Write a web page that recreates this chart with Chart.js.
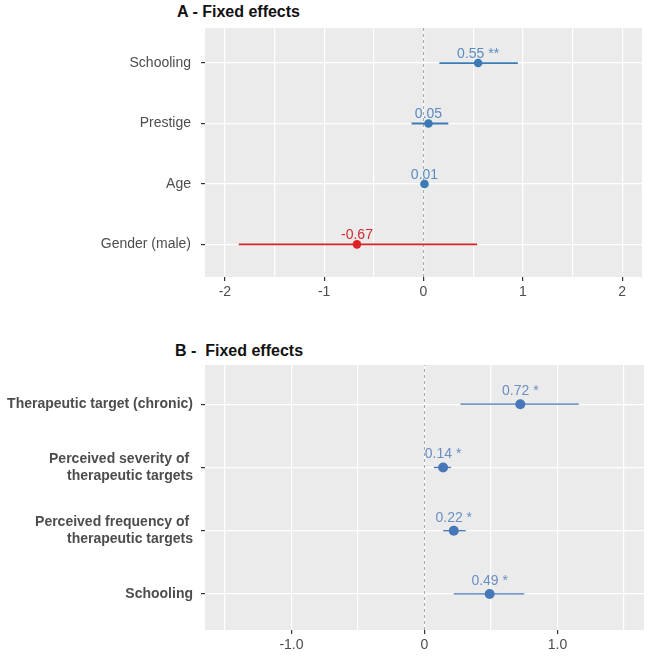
<!DOCTYPE html>
<html>
<head>
<meta charset="utf-8">
<title>Fixed effects</title>
<script src="https://cdn.jsdelivr.net/npm/chart.js@4.4.0/dist/chart.umd.min.js"></script>
<style>
  html, body { margin: 0; padding: 0; background: #ffffff; }
  #page { position: relative; width: 650px; height: 658px; overflow: hidden; font-family: "Liberation Sans", Arial, sans-serif; }
  .panel-title { position: absolute; font-weight: bold; font-size: 16px; line-height: 16px; color: #111111; white-space: pre; }
  .chart-box { position: absolute; left: 0; width: 650px; }
  canvas { display: block; }
</style>
</head>
<body>
<div id="page">
  <div class="panel-title" style="left:177px; top:4px;">A - Fixed effects</div>
  <div class="chart-box" style="top:0; height:307px;"><canvas id="chartA" width="650" height="307"></canvas></div>
  <div class="panel-title" style="left:175px; top:343px;">B -  Fixed effects</div>
  <div class="chart-box" style="top:330px; height:328px;"><canvas id="chartB" width="650" height="328"></canvas></div>
</div>
<script>
// Panel A - fixed effects (top to bottom)
const termsA = ['Schooling', 'Prestige', 'Age', 'Gender (male)'];
const estimatesA = [0.55, 0.05, 0.01, -0.67];
const lowerA = [0.16, -0.12, -0.02, -1.86];
const upperA = [0.95, 0.25, 0.04, 0.54];
const starsA = ['**', '', '', ''];
const xLimitsA = [-2.2, 2.2];
const yLimitsA = [-0.54, 3.58];
const xTicksA = [-2, -1.5, -1, -0.5, 0, 0.5, 1, 1.5, 2];
const xTickLabelsA = ['-2', '', '-1', '', '0', '', '1', '', '2'];

// Panel B - fixed effects (top to bottom)
const termsB = [
    ['Therapeutic target (chronic)'],
    ['Perceived severity of ', 'therapeutic targets'],
    ['Perceived frequency of ', 'therapeutic targets'],
    ['Schooling']
];
const estimatesB = [0.72, 0.14, 0.22, 0.49];
const lowerB = [0.27, 0.07, 0.14, 0.22];
const upperB = [1.16, 0.20, 0.31, 0.75];
const starsB = ['*', '*', '*', '*'];
const xLimitsB = [-1.65, 1.65];
const yLimitsB = [-0.57, 3.62];
const xTicksB = [-1.5, -1, -0.5, 0, 0.5, 1, 1.5];
const xTickLabelsB = ['', '-1.0', '', '0', '', '1.0', ''];

const FONT = '"Liberation Sans", Arial, sans-serif';

// grey ggplot-style panel behind the grid
const panelBackground = {
    id: 'panelBackground',
    beforeDraw(chart) {
        const { ctx, chartArea: a } = chart;
        ctx.save();
        ctx.fillStyle = '#ebebeb';
        ctx.fillRect(a.left, a.top, a.right - a.left, a.bottom - a.top);
        ctx.restore();
    }
};

// estimate text above each point
const makeValueLabels = (estimates, stars, rows, colors, lift) => ({
    id: 'valueLabels',
    afterDatasetsDraw(chart) {
        const { ctx, scales: { x, y } } = chart;
        ctx.save();
        ctx.font = '14px ' + FONT;
        ctx.textAlign = 'center';
        ctx.textBaseline = 'alphabetic';
        estimates.forEach((v, i) => {
            const txt = v.toFixed(2) + (stars[i] ? ' ' + stars[i] : '');
            ctx.fillStyle = v < 0 ? colors.negText : colors.posText;
            ctx.fillText(txt, x.getPixelForValue(v), y.getPixelForValue(rows[i]) - lift);
        });
        ctx.restore();
    }
});

const makeForestChart = (canvasId, cfg) => {
    const n = cfg.terms.length;
    const rows = cfg.terms.map((_, i) => n - 1 - i);
    const colorFor = v => v < 0 ? cfg.colors.neg : cfg.colors.pos;

    const zeroLine = {
        type: 'line',
        data: [{ x: 0, y: cfg.yLimits[0] }, { x: 0, y: cfg.yLimits[1] }],
        borderColor: '#a8a8a8',
        borderWidth: 1,
        borderDash: [3, 3],
        pointRadius: 0,
        order: 3
    };

    const intervals = cfg.estimates.map((v, i) => ({
        type: 'line',
        data: [{ x: cfg.lower[i], y: rows[i] }, { x: cfg.upper[i], y: rows[i] }],
        borderColor: colorFor(v),
        borderWidth: cfg.lineWidth,
        pointRadius: 0,
        order: 2
    }));

    const points = {
        type: 'scatter',
        data: cfg.estimates.map((v, i) => ({ x: v, y: rows[i] })),
        backgroundColor: cfg.estimates.map(colorFor),
        borderWidth: 0,
        pointRadius: cfg.pointRadius,
        order: 1
    };

    return new Chart(document.getElementById(canvasId), {
        type: 'scatter',
        data: { datasets: [zeroLine, ...intervals, points] },
        options: {
            responsive: false,
            animation: false,
            events: [],
            layout: { padding: cfg.padding },
            plugins: { legend: { display: false }, tooltip: { enabled: false } },
            scales: {
                x: {
                    type: 'linear',
                    min: cfg.xLimits[0],
                    max: cfg.xLimits[1],
                    afterBuildTicks: scale => { scale.ticks = cfg.xTicks.map(v => ({ value: v })); },
                    afterFit: scale => { scale.height = cfg.xAxisHeight; },
                    border: { display: false },
                    grid: {
                        color: '#ffffff',
                        lineWidth: 1.2,
                        tickLength: 4,
                        tickColor: c => cfg.xTickLabels[c.index] ? '#333333' : 'rgba(0,0,0,0)'
                    },
                    ticks: {
                        autoSkip: false,
                        maxRotation: 0,
                        minRotation: 0,
                        padding: 3,
                        color: '#4d4d4d',
                        font: { family: FONT, size: 14 },
                        callback: (value, index) => cfg.xTickLabels[index]
                    }
                },
                y: {
                    type: 'linear',
                    min: cfg.yLimits[0],
                    max: cfg.yLimits[1],
                    afterBuildTicks: scale => { scale.ticks = rows.slice().reverse().map(v => ({ value: v })); },
                    afterFit: scale => { scale.width = 205; },
                    border: { display: false },
                    grid: {
                        color: '#ffffff',
                        lineWidth: 1.2,
                        tickLength: 4,
                        tickColor: '#333333'
                    },
                    ticks: {
                        autoSkip: false,
                        padding: cfg.yPadding,
                        color: '#4d4d4d',
                        font: { family: FONT, size: 14, weight: cfg.yWeight, lineHeight: 1.2 },
                        callback: value => cfg.terms[n - 1 - value]
                    }
                }
            }
        },
        plugins: [panelBackground, makeValueLabels(cfg.estimates, cfg.stars, rows, cfg.colors, cfg.labelLift)]
    });
};

makeForestChart('chartA', {
    terms: termsA, estimates: estimatesA, lower: lowerA, upper: upperA, stars: starsA,
    xLimits: xLimitsA, yLimits: yLimitsA, xTicks: xTicksA, xTickLabels: xTickLabelsA,
    colors: { pos: '#3a7ab5', neg: '#dc2227', posText: '#5a8cc0', negText: '#d2282d' },
    lineWidth: 1.8, pointRadius: 4.3, labelLift: 5,
    padding: { top: 28, right: 8, bottom: 0, left: 0 },
    xAxisHeight: 30, yPadding: 10, yWeight: 'normal'
});

makeForestChart('chartB', {
    terms: termsB, estimates: estimatesB, lower: lowerB, upper: upperB, stars: starsB,
    xLimits: xLimitsB, yLimits: yLimitsB, xTicks: xTicksB, xTickLabels: xTickLabelsB,
    colors: { pos: '#4677b8', neg: '#dc2227', posText: '#6b8fc3', negText: '#d2282d' },
    lineWidth: 1.3, pointRadius: 5, labelLift: 9,
    padding: { top: 35, right: 6, bottom: 0, left: 0 },
    xAxisHeight: 28, yPadding: 8, yWeight: 'bold'
});
</script>
</body>
</html>
